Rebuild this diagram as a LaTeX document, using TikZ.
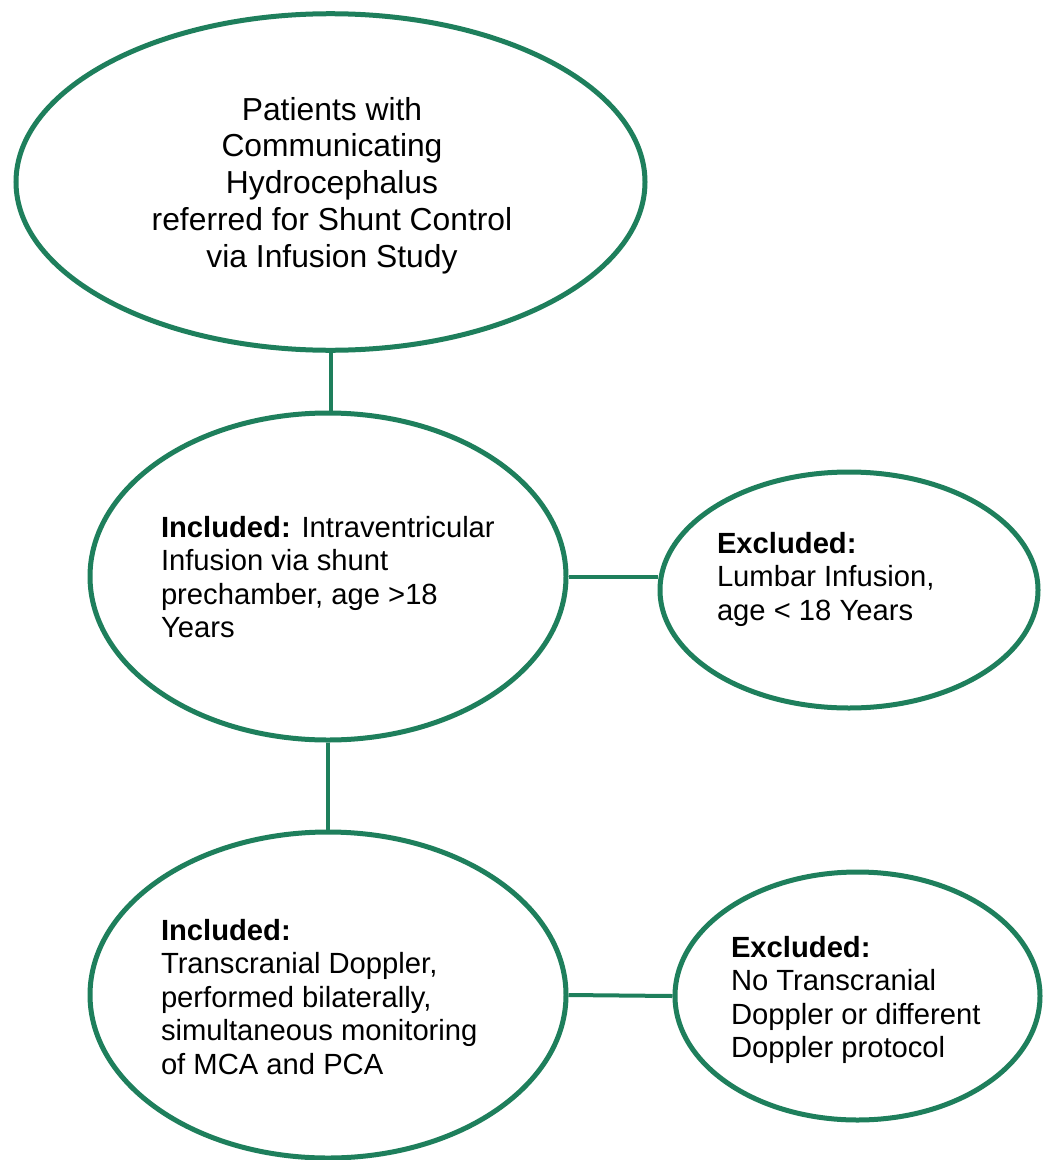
\documentclass[tikz,border=0pt]{standalone}
\usepackage{fontspec}
\setmainfont{Liberation Sans}
\usetikzlibrary{shapes.geometric}
\definecolor{flowgreen}{RGB}{30,127,92}
\tikzset{
  oval/.style={ellipse, draw=flowgreen, line width=3.75pt, inner sep=0pt, fill=white},
  link/.style={draw=flowgreen, line width=3pt},
  txt/.style={inner sep=0pt, outer sep=0pt, text=black}
}
\newcommand{\bodyfont}{\fontsize{21.9pt}{25.2pt}\selectfont}
\newcommand{\topfont}{\fontsize{23.85pt}{27.6pt}\selectfont}
\begin{document}
\begin{tikzpicture}[x=0.75pt, y=-0.75pt]
\useasboundingbox (0,0) rectangle (1048,1160);
% ellipses
\node[oval, minimum width=471.75pt, minimum height=252.4pt] (top) at (330.5,182) {};
\node[oval, minimum width=357pt, minimum height=245.25pt] (mid) at (328,576.5) {};
\node[oval, minimum width=283.5pt, minimum height=177pt] (exone) at (849,590) {};
\node[oval, minimum width=357pt, minimum height=244.5pt] (bot) at (328,995) {};
\node[oval, minimum width=273.75pt, minimum height=186pt] (extwo) at (857.5,996) {};
% connectors
\draw[link] (top.south) -- (top.south |- mid.north);
\draw[link] (mid.east) -- (mid.east -| exone.west);
\draw[link] (mid.south) -- (bot.north);
\draw[link] (bot.east) -- (extwo.west);
% texts
\node[txt, anchor=base] (ttop) at (332,120) {\parbox[t]{420pt}{\centering\topfont Patients with\\Communicating\\Hydrocephalus\\referred for Shunt Control\\via Infusion Study}};
\node[txt, anchor=base west] (tmid) at (161,537) {\parbox[t]{300pt}{\raggedright\bodyfont\textbf{Included:} Intraventricular\\Infusion via shunt\\prechamber, age >18\\Years}};
\node[txt, anchor=base west] (texone) at (717,553) {\parbox[t]{250pt}{\raggedright\bodyfont\textbf{Excluded:}\\Lumbar Infusion,\\age < 18 Years}};
\node[txt, anchor=base west] (tbot) at (161,940) {\parbox[t]{300pt}{\raggedright\bodyfont\textbf{Included:}\\Transcranial Doppler,\\performed bilaterally,\\simultaneous monitoring\\of MCA and PCA}};
\node[txt, anchor=base west] (textwo) at (731,957) {\parbox[t]{250pt}{\raggedright\bodyfont\textbf{Excluded:}\\No Transcranial\\Doppler or different\\Doppler protocol}};
\end{tikzpicture}
\end{document}
